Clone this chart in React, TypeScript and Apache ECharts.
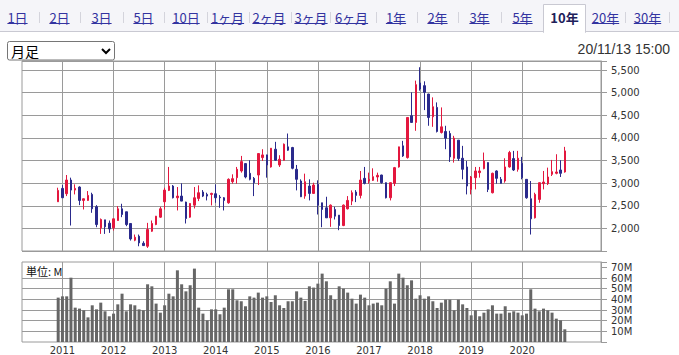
import React, { useEffect, useRef } from 'react';
import * as echarts from 'echarts';

// ---- data (monthly candles, Dec 2010 .. Nov 2020) ----
const FIRST_DATA_MONTH = { year: 2010, month: 12 };
const AXIS_FIRST_MONTH = { year: 2010, month: 4 };
const AXIS_MONTH_COUNT = 136;

const OPEN = [
  2588, 2884, 2766, 3069, 2847, 2914, 2618, 2618, 2751, 2478,
  2012, 2189, 2115, 2012, 2174, 2433, 2367, 2108, 1738, 1827,
  1671, 1605, 1937, 2085, 2248, 2588, 2840, 2936, 2677, 2714,
  2581, 2248, 2514, 2662, 2803, 2751, 2751, 2766, 2692, 2677,
  2566, 3032, 3121, 3269, 3432, 3217, 3106, 3180, 3565, 3624,
  3358, 3750, 3402, 3506, 3802, 3787, 3306, 3047, 2714, 2936,
  2773, 2973, 2566, 2455, 2233, 2418, 2293, 2063, 2433, 2603,
  2803, 2729, 3106, 3047, 3062, 3136, 3180, 3010, 2677, 2995,
  3358, 3824, 3565, 4490, 4342, 5214, 5155, 4970, 4467, 4674,
  4120, 4142, 4097, 3550, 3950, 3550, 3358, 2862, 3121, 3232,
  3321, 3454, 2788, 3269, 3084, 3047, 3358, 3543, 3306, 3439,
  3084, 2655, 2233, 2640, 2988, 2988, 3195, 3217, 3291, 3247,
];
const CLOSE = [
  2840, 2677, 3069, 2847, 2884, 2618, 2655, 2729, 2433, 2085,
  2197, 2034, 1989, 2211, 2433, 2307, 2085, 1767, 1804, 1679,
  1620, 1975, 2108, 2270, 2433, 2847, 2936, 2677, 2714, 2603,
  2219, 2551, 2677, 2788, 2714, 2714, 2773, 2677, 2677, 2618,
  3084, 3099, 3306, 3476, 3136, 3084, 3010, 3654, 3624, 3402,
  3772, 3506, 3528, 3861, 3728, 3328, 3084, 2699, 3032, 2773,
  2958, 2514, 2418, 2233, 2514, 2270, 2063, 2514, 2618, 2788,
  2729, 3069, 2995, 3084, 3143, 3173, 3010, 2677, 3010, 3343,
  3802, 3602, 4452, 4342, 5177, 5081, 5007, 4452, 4689, 4142,
  4245, 3994, 3580, 3994, 3543, 3306, 2936, 3136, 3269, 3269,
  3491, 2862, 3217, 3106, 2995, 3358, 3676, 3291, 3550, 3121,
  2677, 2211, 2751, 3010, 3025, 3136, 3254, 3247, 3217, 3713,
];
const LOW = [
  2588, 2677, 2714, 2063, 2751, 2514, 2418, 2610, 2344, 2026,
  1878, 1878, 1900, 1952, 2170, 2248, 2049, 1731, 1716, 1605,
  1610, 1568, 1923, 2071, 2233, 2418, 2825, 2662, 2396, 2600,
  2108, 2233, 2440, 2603, 2692, 2618, 2507, 2566, 2455, 2396,
  2544, 2988, 2988, 3232, 3106, 3062, 2714, 2958, 3491, 3121,
  3343, 3491, 3358, 3500, 3713, 3306, 2840, 2692, 2655, 2618,
  2766, 2307, 2026, 2230, 2034, 2197, 1960, 2049, 2418, 2514,
  2581, 2662, 2973, 2988, 3047, 3032, 2988, 2662, 2618, 2936,
  3343, 3580, 3543, 4335, 4157, 5044, 4615, 4268, 4245, 4120,
  4097, 3750, 3469, 3454, 3491, 3084, 2751, 2751, 2862, 3121,
  3306, 2803, 2773, 2988, 2988, 3010, 3343, 3269, 3254, 3084,
  2655, 1864, 2219, 2566, 2862, 2958, 3158, 3195, 3136, 3232,
];
const HIGH = [
  2899, 2958, 3180, 3121, 2973, 2930, 2660, 2825, 2788, 2514,
  2219, 2189, 2174, 2215, 2492, 2544, 2367, 2108, 1864, 1864,
  1716, 2122, 2174, 2275, 2478, 2899, 3358, 2958, 2914, 2995,
  2590, 2555, 2914, 2951, 2847, 2788, 2788, 2973, 2736, 2692,
  3106, 3195, 3358, 3602, 3440, 3506, 3136, 3660, 3750, 3630,
  3775, 3913, 3617, 3876, 4097, 3802, 3402, 3084, 3210, 3084,
  3010, 3062, 2566, 2699, 2529, 2478, 2293, 2529, 2714, 2840,
  2847, 3269, 3358, 3232, 3328, 3232, 3185, 3015, 3015, 3358,
  3805, 3935, 4460, 5007, 5266, 5562, 5251, 4975, 4896, 4785,
  4674, 4268, 4157, 4046, 3955, 3824, 3491, 3158, 3358, 3358,
  3676, 3460, 3232, 3284, 3136, 3550, 3713, 3713, 3713, 3580,
  3090, 3047, 2788, 3015, 3269, 3343, 3513, 3639, 3506, 3802,
];
const VOLUME_M = [
  41.6, 42.8, 42.8, 60.3, 32.2, 31.3, 29.7, 23.1, 34.4, 30.6,
  36.9, 28.8, 24.1, 26.6, 35.3, 45.3, 28.8, 35.3, 34.4, 30.6,
  29.7, 54.1, 52.2, 36.0, 27.5, 34.4, 45.3, 42.8, 67.2, 54.1,
  47.5, 53.2, 68.8, 32.2, 26.6, 20.3, 30.6, 30.6, 26.0, 32.2,
  49.4, 49.4, 39.1, 38.2, 33.5, 42.8, 41.6, 46.3, 41.6, 42.8,
  37.5, 43.8, 34.4, 31.9, 38.2, 38.2, 47.5, 41.6, 38.5, 52.2,
  51.0, 54.7, 64.1, 56.9, 43.8, 39.7, 52.2, 50.0, 46.3, 40.6,
  36.0, 44.4, 41.6, 34.4, 36.0, 36.9, 34.4, 50.0, 56.9, 36.0,
  64.1, 60.3, 53.2, 57.8, 40.6, 43.8, 40.6, 42.8, 38.2, 31.9,
  36.9, 39.7, 39.7, 29.7, 39.7, 35.3, 31.9, 25.0, 29.7, 24.1,
  27.5, 30.6, 34.4, 26.6, 26.6, 33.5, 27.5, 28.8, 27.5, 25.0,
  26.6, 49.4, 31.3, 28.8, 31.3, 29.7, 27.5, 21.9, 20.3, 11.9,
];
const VOLUME_GRID_VALUES = [10, 20, 30, 40, 50, 60];

const TAB_LABELS = ['1日', '2日', '3日', '5日', '10日', '1ヶ月', '2ヶ月', '3ヶ月', '6ヶ月', '1年', '2年', '3年', '5年', '10年', '20年', '30年'];
const SELECTED_TAB = '10年';
const PERIOD_LABEL = '月足';
const TIMESTAMP = '20/11/13 15:00';
const UNIT_LABEL = '単位: M';

// ---- layout ----
const TAB_CENTER_X = [17.5, 59.5, 101.5, 143.5, 186, 227.5, 269, 311, 351.5, 396, 437.5, 479.5, 522.5, 564.5, 605.5, 647.5];
const SEPARATOR_X = [39, 80, 123, 164, 207, 249, 291, 330, 376, 417, 458, 501, 625, 669];

const UP = '#e3173e';
const DOWN = '#2a2a8c';
const GRID_LINE = '#9a9a9a';
const LINK = '#3333a0';
const CJK = '"Noto Sans CJK JP", sans-serif';

function monthSeq(start: { year: number; month: number }, count: number): string[] {
  const out: string[] = [];
  let y = start.year;
  let m = start.month;
  for (let i = 0; i < count; i++) {
    out.push(`${y}/${String(m).padStart(2, '0')}`);
    m++;
    if (m > 12) { m = 1; y++; }
  }
  return out;
}

const DATA_MONTHS = monthSeq(FIRST_DATA_MONTH, OPEN.length);
const AXIS_MONTHS = monthSeq(AXIS_FIRST_MONTH, AXIS_MONTH_COUNT);
const DATA_MONTH_SET = new Set(DATA_MONTHS);

// year marks: January months that fall inside the data range
const isYearStart = (_i: number, v: string) => v.endsWith('/01') && DATA_MONTH_SET.has(v);

export default function App() {
  const ref = useRef<HTMLDivElement>(null);
  useEffect(() => {
    if (!ref.current) return;
    const chart = echarts.init(ref.current, null, { renderer: 'svg' });

    const candleData = AXIS_MONTHS.map((lbl) => {
      const i = DATA_MONTHS.indexOf(lbl);
      return i < 0 ? ['-', '-', '-', '-'] : [OPEN[i], CLOSE[i], LOW[i], HIGH[i]];
    });
    const volData = AXIS_MONTHS.map((lbl) => {
      const i = DATA_MONTHS.indexOf(lbl);
      return i < 0 ? '-' : VOLUME_M[i];
    });

    const canvas = document.createElement('canvas');
    const ctx = canvas.getContext('2d')!;
    ctx.font = `13px ${CJK}`;

    const elements: any[] = [
      { type: 'rect', shape: { x: 0, y: 0, width: 679, height: 31 }, style: { fill: '#f5f5f9' }, silent: true },
      { type: 'line', shape: { x1: 0, y1: 31.5, x2: 679, y2: 31.5 }, style: { stroke: '#c9c9d2', lineWidth: 1 }, silent: true },
    ];
    SEPARATOR_X.forEach((x) => {
      elements.push({ type: 'line', shape: { x1: x + 0.5, y1: 12, x2: x + 0.5, y2: 23 }, style: { stroke: '#d4d4dc', lineWidth: 1 }, silent: true });
    });
    TAB_LABELS.forEach((label, k) => {
      const cx = TAB_CENTER_X[k];
      if (label === SELECTED_TAB) {
        elements.push({ type: 'rect', shape: { x: 543.5, y: 4.5, width: 42, height: 28 }, style: { fill: '#fff', stroke: '#c9c9d2', lineWidth: 1 }, silent: true });
        elements.push({ type: 'rect', shape: { x: 544, y: 30, width: 41, height: 4 }, style: { fill: '#fff' }, silent: true });
        elements.push({ type: 'text', x: cx, y: 17, style: { text: label, fill: '#20205a', fontSize: 13, fontWeight: 'bold', fontFamily: CJK, align: 'center', verticalAlign: 'middle' }, silent: true });
      } else {
        const w = ctx.measureText(label).width;
        elements.push({ type: 'text', x: cx, y: 17, style: { text: label, fill: LINK, fontSize: 13, fontFamily: CJK, align: 'center', verticalAlign: 'middle' }, silent: true });
        elements.push({ type: 'line', shape: { x1: cx - w / 2, y1: 23.5, x2: cx + w / 2, y2: 23.5 }, style: { stroke: LINK, lineWidth: 1 }, silent: true });
      }
    });
    // dropdown
    elements.push({ type: 'rect', shape: { x: 7.5, y: 41.5, width: 107, height: 18.5, r: 2 }, style: { fill: '#fff', stroke: '#767676', lineWidth: 1 }, z: 50, silent: true });
    elements.push({ type: 'text', x: 11, y: 51, style: { text: PERIOD_LABEL, fill: '#000', fontSize: 14, fontFamily: CJK, align: 'left', verticalAlign: 'middle' }, z: 51, silent: true });
    elements.push({ type: 'polyline', shape: { points: [[102, 49], [106, 53], [110, 49]] }, style: { stroke: '#000', lineWidth: 2, fill: 'none' }, z: 51, silent: true });
    // timestamp
    elements.push({ type: 'text', x: 670, y: 49, style: { text: TIMESTAMP, fill: '#333', fontSize: 14, fontFamily: '"Liberation Sans", Arial, sans-serif', align: 'right', verticalAlign: 'middle' }, silent: true });
    // unit label
    elements.push({ type: 'text', x: 26, y: 271, style: { text: UNIT_LABEL, fill: '#111', fontSize: 11, fontFamily: CJK, align: 'left', verticalAlign: 'middle' }, z: 60, silent: true });

    const yearSplit = {
      show: true,
      interval: isYearStart,
      alignWithLabel: true,
      lineStyle: { color: GRID_LINE, width: 1 },
    };

    const axisLabelStyle = { color: '#333', fontSize: 10, fontFamily: 'DejaVu Sans' };

    chart.setOption({
      animation: false,
      backgroundColor: '#fff',
      textStyle: { fontFamily: 'DejaVu Sans' },
      grid: [
        { left: 22, top: 61, width: 579, height: 190, show: true, borderColor: GRID_LINE, borderWidth: 1, backgroundColor: 'transparent', containLabel: false, outerBoundsMode: 'none' },
        { left: 22, top: 262, width: 579, height: 80, show: true, borderColor: GRID_LINE, borderWidth: 1, backgroundColor: 'transparent', containLabel: false, outerBoundsMode: 'none' },
      ],
      xAxis: [
        {
          type: 'category', gridIndex: 0, data: AXIS_MONTHS, boundaryGap: true,
          axisLine: { show: false }, axisTick: { show: false }, axisLabel: { show: false },
          splitLine: yearSplit,
        },
        {
          type: 'category', gridIndex: 1, data: AXIS_MONTHS, boundaryGap: true,
          axisLine: { show: false }, axisTick: { show: false },
          axisLabel: { ...axisLabelStyle, interval: isYearStart, margin: 3, formatter: (v: string) => v.slice(0, 4) },
          splitLine: yearSplit,
        },
      ],
      yAxis: [
        {
          type: 'value', gridIndex: 0, position: 'right', min: 1500, max: 5700, interval: 500,
          axisLine: { show: true, lineStyle: { color: GRID_LINE } },
          axisTick: { show: true, length: 6, lineStyle: { color: GRID_LINE } },
          axisLabel: {
            ...axisLabelStyle, margin: 10,
            formatter: (v: number) => (v % 500 === 0 && v >= 2000 && v <= 5500 ? v.toLocaleString('en-US') : ''),
          },
          splitLine: { show: true, lineStyle: { color: GRID_LINE, width: 1 } },
        },
        {
          type: 'value', gridIndex: 1, position: 'right', min: 0, max: 75, interval: 10,
          axisLine: { show: true, lineStyle: { color: GRID_LINE } },
          axisTick: { show: true, length: 6, lineStyle: { color: GRID_LINE } },
          axisLabel: {
            ...axisLabelStyle, margin: 10,
            formatter: (v: number) => (v > 0 && v <= 70 ? `${v}M` : ''),
          },
          splitLine: { show: false },
        },
      ],
      series: [
        {
          type: 'candlestick', xAxisIndex: 0, yAxisIndex: 0, data: candleData, barWidth: 2,
          itemStyle: { color: UP, color0: DOWN, borderColor: UP, borderColor0: DOWN, borderWidth: 1 },
          emphasis: { disabled: true },
        },
        {
          type: 'bar', xAxisIndex: 1, yAxisIndex: 1, data: volData, barWidth: 3,
          itemStyle: { color: '#666' },
          emphasis: { disabled: true },
          markLine: {
            silent: true, symbol: 'none', z: 1,
            label: { show: false },
            lineStyle: { color: GRID_LINE, type: 'solid', width: 1 },
            emphasis: { disabled: true },
            data: VOLUME_GRID_VALUES.map((v) => ({ yAxis: v })),
          },
        },
      ],
      graphic: { elements },
    });

    return () => chart.dispose();
  }, []);

  return (
    <div
      ref={ref}
      style={{ position: 'fixed', left: 0, top: 0, width: 679, height: 355, background: '#fff' }}
    />
  );
}
